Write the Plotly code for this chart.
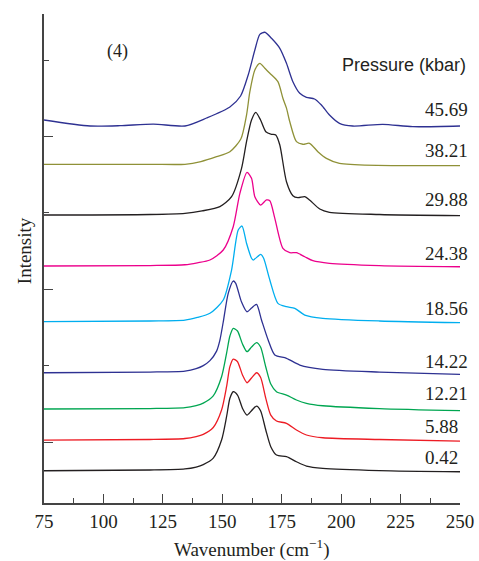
import plotly.graph_objects as go

# ---- data (wavenumber in cm^-1, intensity in arbitrary offset units) ----
pressures = ["0.42", "5.88", "12.21", "14.22", "18.56", "24.38", "29.88", "38.21", "45.69"]
colors = ["#231f20", "#ed1c24", "#00a651", "#2e3192", "#00aeef", "#ec008c", "#231f20", "#8f9137", "#2e3192"]

x_042 = [75, 119.6, 134.3, 139.0, 142.0, 146.2, 149.7, 151.8, 153.2, 154.6, 156.4, 158.5, 160.4, 162.3, 164.4, 166.1, 168.3, 170.4, 172.8, 177.0, 181.2, 185.4, 192.3, 216.1, 250]
y_042 = [-0.376, -0.366, -0.352, -0.327, -0.295, -0.21, 0.026, 0.331, 0.572, 0.658, 0.615, 0.441, 0.353, 0.410, 0.471, 0.410, 0.157, -0.061, -0.170, -0.192, -0.258, -0.314, -0.344, -0.373, -0.389]

x_588 = [75, 119.6, 134.3, 139.0, 142.0, 146.2, 149.7, 151.8, 153.2, 154.6, 156.4, 158.5, 160.4, 162.3, 164.4, 166.1, 168.3, 170.4, 172.8, 177.0, 181.2, 185.4, 192.3, 216.1, 250]
y_588 = [0.026, 0.033, 0.046, 0.072, 0.100, 0.190, 0.419, 0.724, 0.986, 1.086, 1.051, 0.877, 0.776, 0.838, 0.907, 0.847, 0.572, 0.353, 0.275, 0.245, 0.157, 0.092, 0.056, 0.033, 0.013]

x_1221 = [75, 119.6, 134.3, 139.0, 142.0, 146.2, 149.7, 151.8, 153.2, 154.6, 156.4, 158.5, 160.4, 162.3, 164.4, 166.1, 168.3, 170.4, 172.8, 177.0, 181.2, 185.4, 192.3, 216.1, 250]
y_1221 = [0.432, 0.438, 0.450, 0.478, 0.510, 0.605, 0.855, 1.161, 1.387, 1.488, 1.453, 1.283, 1.182, 1.243, 1.300, 1.243, 0.982, 0.759, 0.658, 0.615, 0.550, 0.507, 0.475, 0.438, 0.410]

x_1422 = [75, 119.6, 134.3, 139.0, 142.0, 144.8, 147.6, 149.0, 150.4, 152.5, 154.6, 155.6, 158.1, 160.4, 162.3, 164.4, 166.5, 169.3, 172.1, 177.0, 182.6, 192.3, 216.1, 250]
y_1422 = [0.907, 0.916, 0.929, 0.960, 1.000, 1.065, 1.190, 1.335, 1.571, 1.946, 2.107, 2.081, 1.832, 1.705, 1.754, 1.802, 1.597, 1.335, 1.139, 1.096, 1.008, 0.952, 0.916, 0.886]

x_1856 = [75, 119.6, 134.3, 139.5, 144.8, 150.4, 153.9, 156.7, 158.3, 160.2, 162.3, 163.0, 166.2, 167.4, 170.0, 173.4, 177.0, 180.5, 184.7, 192.3, 216.1, 250]
y_1856 = [1.575, 1.584, 1.595, 1.630, 1.685, 1.859, 2.251, 2.775, 2.827, 2.601, 2.405, 2.382, 2.457, 2.405, 2.120, 1.815, 1.771, 1.750, 1.662, 1.619, 1.584, 1.562]

x_2438 = [75, 119.6, 134.3, 139.5, 144.8, 150.4, 154.6, 157.4, 160.4, 162.3, 163.7, 166.1, 168.6, 170.0, 172.1, 175.5, 178.4, 181.2, 184.7, 188.1, 195.1, 216.1, 250]
y_2438 = [2.304, 2.310, 2.320, 2.345, 2.382, 2.513, 2.818, 3.255, 3.530, 3.452, 3.211, 3.102, 3.168, 3.158, 2.928, 2.535, 2.478, 2.478, 2.425, 2.373, 2.339, 2.310, 2.294]

x_2988 = [75, 119.6, 134.3, 141.5, 149.0, 153.9, 158.1, 160.2, 162.3, 164.1, 166.1, 168.3, 170.7, 172.5, 174.2, 177.0, 179.7, 181.8, 184.7, 186.7, 191.0, 195.1, 216.1, 250]
y_2988 = [2.971, 2.978, 2.993, 3.025, 3.080, 3.211, 3.582, 3.931, 4.215, 4.315, 4.215, 4.062, 4.028, 4.018, 3.887, 3.407, 3.224, 3.198, 3.211, 3.168, 3.050, 3.007, 2.978, 2.962]

x_3821 = [75, 119.6, 134.3, 141.0, 147.6, 153.2, 157.8, 160.2, 161.6, 163.7, 165.8, 167.9, 170.0, 173.4, 175.5, 177.0, 178.4, 181.2, 183.9, 186.7, 190.2, 193.8, 199.3, 250]
y_3821 = [3.635, 3.635, 3.635, 3.670, 3.734, 3.800, 3.966, 4.280, 4.585, 4.869, 4.957, 4.891, 4.826, 4.716, 4.499, 4.370, 4.192, 3.931, 3.897, 3.910, 3.800, 3.713, 3.648, 3.617]

x_4569 = [75, 94.4, 107.0, 121.0, 134.3, 143.4, 153.2, 157.7, 160.9, 163.7, 165.8, 167.9, 170.7, 174.2, 177.0, 179.7, 182.6, 185.4, 188.8, 191.7, 195.1, 199.3, 204.9, 217.5, 230.1, 250]
y_4569 = [4.215, 4.136, 4.140, 4.162, 4.136, 4.241, 4.385, 4.529, 4.804, 5.131, 5.336, 5.363, 5.284, 5.153, 4.957, 4.716, 4.564, 4.512, 4.490, 4.411, 4.280, 4.171, 4.136, 4.158, 4.127, 4.136]

label_y = [-0.196, 0.209, 0.641, 1.051, 1.754, 2.474, 3.168, 3.822, 4.346]

xs = [x_042, x_588, x_1221, x_1422, x_1856, x_2438, x_2988, x_3821, x_4569]
ys = [y_042, y_588, y_1221, y_1422, y_1856, y_2438, y_2988, y_3821, y_4569]

x_ticks = [75, 100, 125, 150, 175, 200, 225, 250]

SERIF = "Liberation Serif"
SANS = "Liberation Sans"
TXT = "#231f20"

fig = go.Figure()
for p, c, xv, yv in zip(pressures, colors, xs, ys):
    fig.add_trace(go.Scatter(x=xv, y=yv, mode="lines", name=p,
                             line=dict(color=c, width=1.3, shape="spline", smoothing=0.7),
                             showlegend=False, hoverinfo="skip"))

annotations = []
for p, ly in zip(pressures, label_y):
    annotations.append(dict(x=234.4, y=ly, xref="x", yref="y", text=p, showarrow=False,
                            xanchor="left", yanchor="middle",
                            font=dict(family=SERIF, size=19, color=TXT)))
annotations.append(dict(x=199.4, y=4.935, xref="x", yref="y", text="Pressure (kbar)",
                        showarrow=False, xanchor="left", yanchor="middle",
                        font=dict(family=SANS, size=18, color=TXT)))
annotations.append(dict(x=100.7, y=5.105, xref="x", yref="y", text="(4)",
                        showarrow=False, xanchor="left", yanchor="middle",
                        font=dict(family=SERIF, size=18, color=TXT)))
annotations.append(dict(x=0.5, y=0, xref="paper", yref="paper", yshift=-45,
                        text="Wavenumber (cm<sup>−1</sup>)", showarrow=False,
                        xanchor="center", yanchor="middle",
                        font=dict(family=SERIF, size=19, color=TXT)))
annotations.append(dict(x=0, y=0.515, xref="paper", yref="paper", xshift=-20,
                        text="Intensity", showarrow=False, textangle=-90,
                        xanchor="center", yanchor="middle",
                        font=dict(family=SERIF, size=19, color=TXT)))

fig.update_layout(
    width=479, height=561,
    margin=dict(l=44, r=19, t=14, b=58, autoexpand=False),
    paper_bgcolor="white", plot_bgcolor="white",
    annotations=annotations,
    xaxis=dict(range=[75, 250], tickvals=x_ticks, ticktext=[str(t) for t in x_ticks],
               automargin=False,
               ticks="inside", ticklen=9, tickwidth=1.3, tickcolor="#444",
               showline=True, linecolor="#444", linewidth=1.5, showgrid=False, zeroline=False,
               tickfont=dict(family=SERIF, size=19, color=TXT),
               minor=dict(ticks="inside", dtick=12.5, tick0=75, ticklen=5, tickwidth=1.3, tickcolor="#444")),
    yaxis=dict(range=[-0.798, 5.602], tickvals=[0, 2, 4], showticklabels=False,
               automargin=False,
               ticks="inside", ticklen=9, tickwidth=1.3, tickcolor="#444",
               showline=True, linecolor="#444", linewidth=1.5, showgrid=False, zeroline=False,
               minor=dict(ticks="inside", tickvals=[1, 3, 5], ticklen=5, tickwidth=1.3, tickcolor="#444")),
)

fig.write_html("out.html", config={"displayModeBar": False},
               post_script="document.body.style.margin='0';document.body.style.overflow='hidden';")
